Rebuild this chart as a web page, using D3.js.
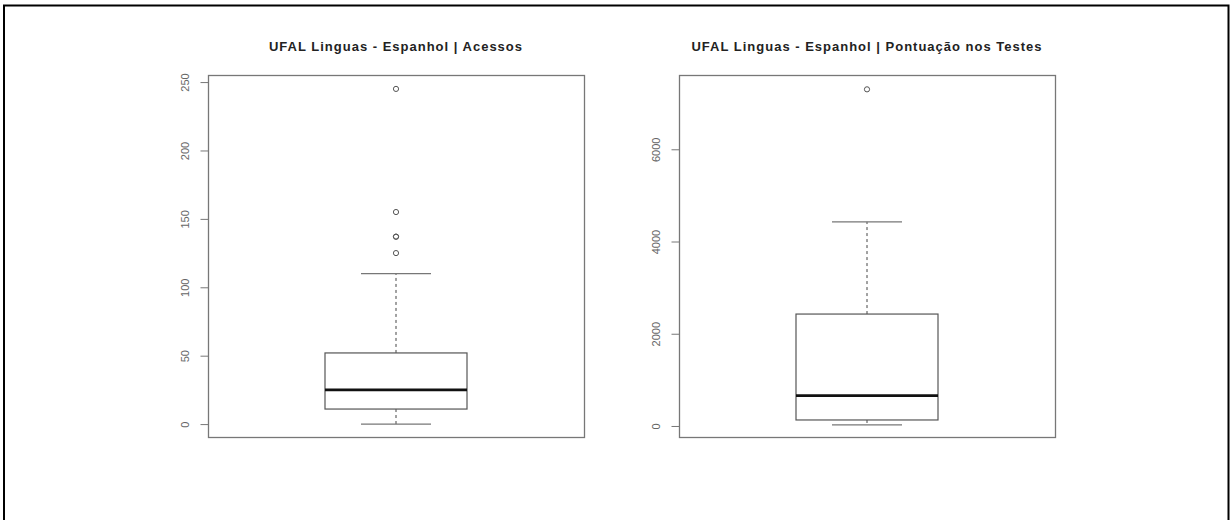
<!DOCTYPE html>
<html>
<head>
<meta charset="utf-8">
<script src="https://cdn.jsdelivr.net/npm/d3@7"></script>
<style>
  body { margin: 0; background: #fff; }
  svg { display: block; }
</style>
</head>
<body>
<svg id="chart" width="1230" height="520"></svg>
<script>
// Panel titles
const titles = [
  "UFAL Linguas - Espanhol | Acessos",
  "UFAL Linguas - Espanhol | Pontuação nos Testes"
];

// Box statistics: [lower whisker, Q1, median, Q3, upper whisker]
const statsAcessos = [0, 11, 25, 52, 110];
const statsPontuacao = [25, 130, 657, 2427, 4427];

// Outliers
const outliersAcessos = [245, 155, 137, 137, 125];
const outliersPontuacao = [7300];

// Axis domains and ticks
const domainAcessos = [-9.8, 254.8];
const domainPontuacao = [-250, 7600];
const ticksAcessos = [0, 50, 100, 150, 200, 250];
const ticksPontuacao = [0, 2000, 4000, 6000];

const svg = d3.select("#chart");

// page frame (left, top, right edges)
svg.append("path")
  .attr("d", "M4,520 L4,5.5 L1228.5,5.5 L1228.5,520")
  .attr("fill", "none")
  .attr("stroke", "#000")
  .attr("stroke-width", 2);

const panels = [
  { left: 208, title: titles[0], stats: statsAcessos, out: outliersAcessos, domain: domainAcessos, ticks: ticksAcessos },
  { left: 679, title: titles[1], stats: statsPontuacao, out: outliersPontuacao, domain: domainPontuacao, ticks: ticksPontuacao }
];

const plotW = 376, plotTop = 75.5, plotBottom = 437.5;

panels.forEach(p => {
  const g = svg.append("g");
  const y = d3.scaleLinear().domain(p.domain).range([plotBottom, plotTop]);
  const x = d3.scaleLinear().domain([0.5, 1.5]).range([p.left, p.left + plotW]);

  // title
  g.append("text")
    .attr("x", p.left + plotW / 2)
    .attr("y", 51)
    .attr("text-anchor", "middle")
    .style("font-family", "Liberation Sans, Arial, sans-serif")
    .style("font-weight", "bold")
    .style("font-size", "13px")
    .style("letter-spacing", "1px")
    .style("fill", "#222")
    .text(p.title);

  // plot frame
  g.append("rect")
    .attr("x", p.left + 0.5).attr("y", plotTop)
    .attr("width", plotW).attr("height", plotBottom - plotTop)
    .attr("fill", "none")
    .attr("stroke", "#777")
    .attr("stroke-width", 1.3);

  // y axis
  const axis = g.append("g")
    .attr("transform", `translate(${p.left + 0.5},0)`)
    .call(d3.axisLeft(y).tickValues(p.ticks).tickSize(8).tickFormat(d3.format("d")));
  axis.select(".domain").remove();
  axis.selectAll("line").attr("stroke", "#777");
  axis.selectAll("text")
    .attr("transform", "rotate(-90)")
    .attr("x", 0).attr("dy", null).attr("y", -19.5)
    .attr("text-anchor", "middle")
    .style("font-family", "Liberation Sans, Arial, sans-serif")
    .style("font-size", "11px")
    .style("fill", "#666");
  g.append("line")
    .attr("x1", p.left + 0.5).attr("x2", p.left + 0.5)
    .attr("y1", y(p.ticks[0])).attr("y2", y(p.ticks[p.ticks.length - 1]))
    .attr("stroke", "#777");

  const [lo, q1, med, q3, hi] = p.stats;
  const cx = x(1);
  const boxHalf = 71, capHalf = 35;

  // whiskers (dashed)
  g.append("line").attr("x1", cx).attr("x2", cx).attr("y1", y(q3)).attr("y2", y(hi))
    .attr("stroke", "#444").attr("stroke-dasharray", "3,3");
  g.append("line").attr("x1", cx).attr("x2", cx).attr("y1", y(q1)).attr("y2", y(lo))
    .attr("stroke", "#444").attr("stroke-dasharray", "3,3");
  // caps
  [lo, hi].forEach(v => {
    g.append("line").attr("x1", cx - capHalf).attr("x2", cx + capHalf)
      .attr("y1", y(v)).attr("y2", y(v))
      .attr("stroke", "#777").attr("stroke-width", 1.3);
  });
  // box
  g.append("rect")
    .attr("x", cx - boxHalf).attr("y", y(q3))
    .attr("width", boxHalf * 2).attr("height", y(q1) - y(q3))
    .attr("fill", "#fff").attr("stroke", "#555").attr("stroke-width", 1.2);
  // median
  g.append("line").attr("x1", cx - boxHalf).attr("x2", cx + boxHalf)
    .attr("y1", y(med)).attr("y2", y(med))
    .attr("stroke", "#111").attr("stroke-width", 2.8);
  // outliers
  g.selectAll("circle.out").data(p.out).join("circle")
    .attr("class", "out")
    .attr("cx", cx).attr("cy", d => y(d)).attr("r", 2.6)
    .attr("fill", "none").attr("stroke", "#555").attr("stroke-width", 1);
});
</script>
</body>
</html>
